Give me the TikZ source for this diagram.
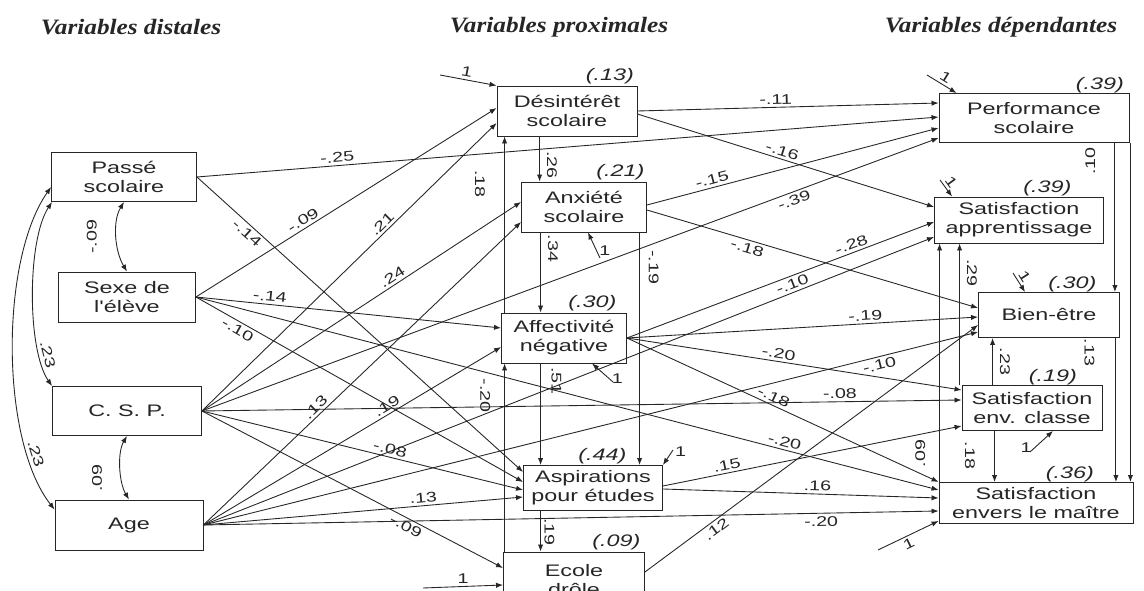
\documentclass[tikz,border=0pt]{standalone}
\usepackage{fontspec}
\setmainfont{Liberation Sans}
\newfontfamily\boxfont{Liberation Sans}[FakeStretch=1.4]
\newfontfamily\hdrfont{Liberation Serif}[FakeStretch=1.15]
\usetikzlibrary{arrows.meta,calc}

\begin{document}
\begin{tikzpicture}[
    x=0.02cm, y=-0.02cm,
    >={Latex[length=4pt,width=3pt]},
    line width=0.5pt, color=black!85,
    box/.style={draw, fill=white, align=center, inner sep=1pt, font=\boxfont\fontsize{9.5}{10.8}\selectfont},
    lab/.style={font=\boxfont\fontsize{8}{9}\selectfont, inner sep=1.5pt},
    vlab/.style={lab, rotate=-90},
    vlabu/.style={lab, rotate=90},
    rsq/.style={font=\boxfont\itshape\fontsize{9.5}{10}\selectfont, inner sep=0pt, anchor=south east},
    hdr/.style={font=\hdrfont\bfseries\itshape\fontsize{12.5}{14}\selectfont}
]
    \fill[white] (0,0) rectangle (1144,591);
    \useasboundingbox (0,0) rectangle (1144,591);
    \clip (0,0) rectangle (1144,591);

    % column titles
    \node[hdr] (h1) at (131,27) {Variables distales};
    \node[hdr] (h2) at (559,27) {Variables proximales};
    \node[hdr] (h3) at (1001,27) {Variables dépendantes};

    % distal variables
    \node[box, minimum width=2.9cm, minimum height=0.98cm] (pas) at (124,177) {Passé\\scolaire};
    \node[box, minimum width=2.74cm, minimum height=1cm] (sex) at (127,297) {Sexe de\\l'élève};
    \node[box, minimum width=2.98cm, minimum height=0.98cm] (csp) at (127,411) {C. S. P.};
    \node[box, minimum width=2.96cm, minimum height=1cm] (age) at (129,525) {Age};

    % proximal variables
    \node[box, minimum width=2.8cm, minimum height=1cm] (des) at (567,111) {Désintérêt\\scolaire};
    \node[box, minimum width=2.5cm, minimum height=1cm] (anx) at (584,207) {Anxiété\\scolaire};
    \node[box, minimum width=2.5cm, minimum height=1cm] (aff) at (564,338) {Affectivité\\négative};
    \node[box, minimum width=2.78cm, minimum height=0.9cm] (asp) at (593,488) {Aspirations\\pour études};
    \node[box, minimum width=2.82cm, minimum height=1.12cm] (eco) at (574,580) {Ecole\\drôle};

    % dependent variables
    \node[box, minimum width=3.8cm, minimum height=0.98cm] (per) at (1034,118) {Performance\\scolaire};
    \node[box, minimum width=3.38cm, minimum height=0.92cm] (sap) at (1019,220) {Satisfaction\\apprentissage};
    \node[box, minimum width=2.82cm, minimum height=0.9cm] (bie) at (1049,315) {Bien-être};
    \node[box, minimum width=2.8cm, minimum height=0.9cm] (sec) at (1032,408) {Satisfaction\\env. classe};
    \node[box, minimum width=3.88cm, minimum height=0.82cm] (sem) at (1036,503) {Satisfaction\\envers le maître};

    % explained variance
    \node[rsq] (r1) at ($(des.north east)+(-3,-1)$) {(.13)};
    \node[rsq] (r2) at ($(anx.north east)+(-2,-1)$) {(.21)};
    \node[rsq] (r3) at ($(aff.north east)+(-10,-1)$) {(.30)};
    \node[rsq] (r4) at ($(asp.north east)+(-36,-1)$) {(.44)};
    \node[rsq] (r5) at ($(eco.north east)+(-4,-1)$) {(.09)};
    \node[rsq] (r6) at ($(per.north east)+(-5,0)$) {(.39)};
    \node[rsq] (r7) at ($(sap.north east)+(-32,0)$) {(.39)};
    \node[rsq] (r8) at ($(bie.north east)+(-23,0)$) {(.30)};
    \node[rsq] (r9) at ($(sec.north east)+(-25,0)$) {(.19)};
    \node[rsq] (r10) at ($(sem.north east)+(-39,0)$) {(.36)};

    % correlations between distal variables
    \draw[<->] (pas.south) .. controls ($(pas.south)+(-12,20)$) and ($(sex.north)+(-12,-20)$) .. node[pos=.5, xshift=-14pt, vlabu] {-.09} (sex.north);
    \draw[<->] (csp.south) .. controls ($(csp.south)+(-10,17)$) and ($(age.north)+(-10,-17)$) .. node[pos=.65, xshift=-14pt, vlabu] {.09} (age.north);
    \draw[<->] ($(pas.south west)+(1,0)$) .. controls (27,240) and (27,350) .. node[lab, sloped, above, pos=.8] {.23} (csp.north west);
    \draw[<->] ($(pas.west)+(0,10)$) .. controls (0,260) and (0,440) .. node[lab, sloped, above, pos=.8] {.23} ($(age.north west)+(0,10)$);

    % distal -> proximal and dependent
    \draw[->] (pas.east) -- node[lab, sloped, above, pos=.19] {-.25} ($(per.west)+(0,-1)$);
    \draw[->] (pas.east) -- node[lab, sloped, below, pos=.17] {-.14} ($(asp.west)+(0,-16)$);
    \draw[->] (sex.east) -- node[lab, sloped, above, pos=.37] {-.09} ($(des.west)+(0,-3)$);
    \draw[->] (sex.east) -- node[lab, sloped, above, pos=.24] {-.14} ($(aff.west)+(0,-10)$);
    \draw[->] (sex.east) -- node[lab, sloped, below, pos=.14] {-.10} ($(asp.west)+(0,-6)$);
    \draw[->] (sex.east) -- node[lab, sloped, above, pos=.79] {-.20} ($(sem.west)+(0,-13)$);
    \draw[->] (csp.east) -- node[lab, sloped, above, pos=.63] {.21} ($(des.west)+(0,12)$);
    \draw[->] (csp.east) -- node[lab, sloped, above, pos=.61] {.24} ($(anx.west)+(0,-5)$);
    \draw[->] (csp.east) -- node[lab, sloped, below, pos=.80] {-.39} ($(per.west)+(0,20)$);
    \draw[->] (csp.east) -- node[lab, sloped, above, pos=.84] {-.08} ($(sec.west)+(0,-8)$);
    \draw[->] (csp.east) -- node[lab, sloped, above, pos=.58] {-.08} ($(asp.west)+(0,2)$);
    \draw[->] (csp.east) -- node[lab, sloped, below, pos=.69] {-.09} ($(eco.west)+(0,-12)$);
    \draw[->] (age.east) -- node[lab, sloped, above, pos=.37] {.13} ($(anx.west)+(0,15)$);
    \draw[->] (age.east) -- node[lab, sloped, above, pos=.63] {.19} ($(aff.west)+(0,9)$);
    \draw[->] (age.east) -- node[lab, sloped, above, pos=.69] {.13} ($(asp.west)+(0,9)$);
    \draw[->] (age.east) -- node[lab, sloped, below, pos=.84] {-.20} ($(sem.west)+(0,8)$);
    \draw[->] (age.east) -- node[lab, sloped, above, pos=.81] {-.10} ($(sap.west)+(0,17)$);
    \draw[->] (age.east) -- node[lab, sloped, below, pos=.87] {-.10} ($(bie.west)+(0,17)$);

    % proximal chain
    \coordinate (v1) at ($(des.south west)+(43,0)$);
    \coordinate (v2) at ($(anx.south west)+(19.5,0)$);
    \coordinate (v4) at ($(anx.south west)+(118.5,0)$);
    \coordinate (v5) at ($(eco.north west)+(1.5,0)$);
    \draw[->] (v1) -- node[pos=.63, xshift=7pt, vlab] {.26} (v1 |- anx.north);
    \draw[->] (v2) -- node[pos=.2, xshift=7pt, vlab] {.34} (v2 |- aff.north);
    \draw[->] (v2 |- aff.south) -- node[pos=.17, xshift=9pt, vlab] {.51} (v2 |- asp.north);
    \draw[->] (v2 |- asp.south) -- node[pos=.52, xshift=5pt, vlab] {.19} (v2 |- eco.north);
    \draw[->] (v4) -- node[pos=.15, xshift=8pt, vlab] {-.19} (v4 |- asp.north);
    \draw[->] (v5) -- node[pos=.83, xshift=-11pt, vlab] {-.20} (v5 |- aff.south);
    \draw[->] (v5 |- aff.north) -- node[pos=.73, xshift=-14pt, vlab] {.18} (v5 |- des.south);

    % proximal -> dependent
    \draw[->] (des.east) -- node[lab, sloped, above, pos=.46] {-.11} ($(per.west)+(0,-15)$);
    \draw[->] ($(des.east)+(0,3)$) -- node[lab, sloped, above, pos=.48] {-.16} ($(sap.west)+(0,-13)$);
    \draw[->] ($(anx.east)+(0,-2)$) -- node[lab, sloped, above, pos=.23] {-.15} ($(per.west)+(0,10)$);
    \draw[->] ($(anx.east)+(0,3)$) -- node[lab, sloped, below, pos=.31] {-.18} ($(bie.west)+(0,-7)$);
    \draw[->] (aff.east) -- node[lab, sloped, above, pos=.74] {-.28} ($(sap.west)+(0,2)$);
    \draw[->] (aff.east) -- node[lab, sloped, above, pos=.68] {-.19} ($(bie.west)+(0,2)$);
    \draw[->] (aff.east) -- node[lab, sloped, above, pos=.45] {-.20} ($(sec.west)+(0,-18)$);
    \draw[->] (aff.east) -- node[lab, sloped, above, pos=.46] {-.18} ($(sem.west)+(0,-21)$);
    \draw[->] ($(asp.east)+(0,-2)$) -- node[lab, sloped, above, pos=.22] {.15} ($(sec.west)+(0,18)$);
    \draw[->] ($(asp.east)+(0,1)$) -- node[lab, sloped, above, pos=.56] {.16} ($(sem.west)+(0,-5)$);
    \draw[->] ($(eco.east)+(0,-8)$) -- node[lab, sloped, below, pos=.2] {.12} ($(bie.west)+(0,10)$);

    % dependent chain
    \coordinate (w1) at ($(bie.north east)+(-5,0)$);
    \coordinate (w2) at ($(sem.north east)+(-3,0)$);
    \coordinate (w3) at ($(bie.south east)+(-4,0)$);
    \coordinate (w4) at ($(sec.north west)+(31,0)$);
    \coordinate (w5) at ($(sec.south west)+(33,0)$);
    \coordinate (w6) at ($(sec.north west)+(-2,0)$);
    \coordinate (w7) at ($(sem.north west)+(1,0)$);
    \draw[->] (w1 |- per.south) -- node[pos=.12, xshift=-14pt, vlabu] {.10} (w1);
    \draw[->] (w2 |- per.south) -- (w2);
    \draw[->] (w3) -- node[pos=.1, xshift=-15pt, vlab] {.13} (w3 |- sem.north);
    \draw[->] (w4) -- node[pos=.5, xshift=7pt, vlab] {.23} (w4 |- bie.south);
    \draw[->] (w5) -- node[pos=.48, xshift=-14pt, vlab] {.18} (w5 |- sem.north);
    \draw[->] (w6) -- node[pos=.79, xshift=7pt, vlab] {.29} (w6 |- sap.south);
    \draw[->] (w7) -- node[pos=.12, xshift=-11pt, vlabu] {.09} (w7 |- sap.south);

    % residual paths
    \coordinate (ddes) at (440,75);
    \coordinate (danx) at (600,258);
    \coordinate (daff) at (613,382);
    \coordinate (dasp) at (673,450);
    \coordinate (deco) at (423,588);
    \coordinate (dper) at (927,75);
    \coordinate (dsap) at (940,180);
    \coordinate (dbie) at (1013,273);
    \coordinate (dsec) at (1030,452);
    \coordinate (dsem) at (878,550);
    \draw[->] (ddes) -- node[lab, sloped, above, pos=.45] {1} (des.north west);
    \draw[->] (danx) -- node[lab, right, pos=.3] {1} ($(anx.south)+(4,0)$);
    \draw[->] (daff) -- node[lab, right, pos=.2] {1} ($(aff.south)+(28,0)$);
    \draw[->] (dasp) -- node[lab, right, pos=.1] {1} (asp.north east);
    \draw[->] (deco) -- node[lab, above, pos=.5] {1} ($(eco.west)+(0,5)$);
    \draw[->] (dper) -- node[lab, sloped, above, pos=.5] {1} ($(per.north west)+(18,0)$);
    \draw[->] (dsap) -- node[lab, sloped, above, pos=.4] {1} ($(sap.north west)+(18,0)$);
    \draw[->] (dbie) -- node[lab, sloped, above, pos=.4] {1} ($(bie.north west)+(47,0)$);
    \draw[->] (dsec) -- node[lab, left, pos=.2] {1} ($(sec.south)+(21,0)$);
    \draw[->] (dsem) -- node[lab, sloped, below, pos=.45] {1} ($(sem.south west)+(0,-3)$);
\end{tikzpicture}
\end{document}
